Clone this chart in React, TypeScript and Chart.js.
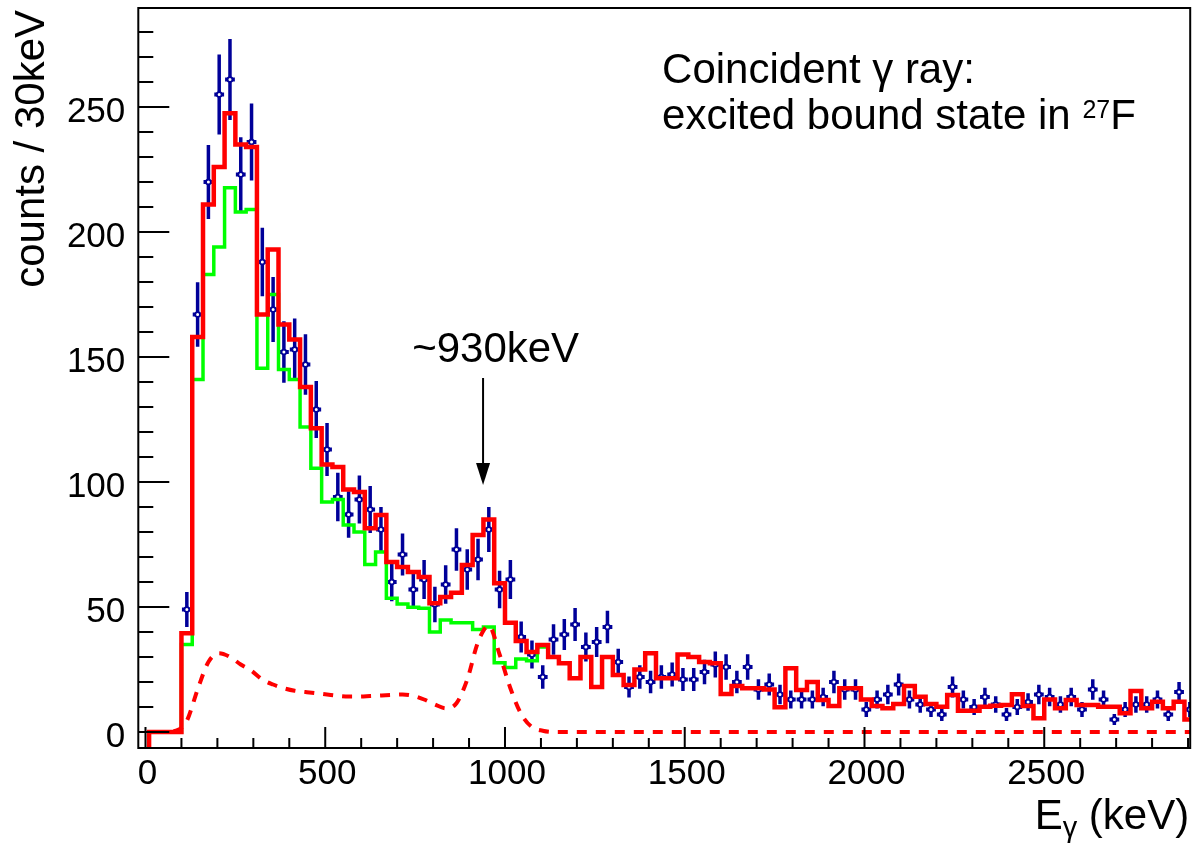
import React, { useEffect, useRef } from "react";
import { Chart, registerables } from "chart.js";

Chart.register(...registerables);

// ---------------- data (30 keV bins, first bin edge at 10 keV) ----------------
const BIN_START = 10;
const BIN_WIDTH = 30;

// measured counts (blue points); first entry is bin index 3 (centre 115 keV)
const DATA_FIRST_BIN = 3;
const dataCounts = [
  49, 167, 220, 255, 261, 223, 236, 188, 169, 152,
  153, 147, 129, 113, 94, 87, 93, 89, 81, 60,
  71, 57, 61, 51, 59, 73, 65, 69, 81, 57,
  61, 38, 31, 22, 37, 39, 43, 34, 36, 42,
  28, 18, 22, 20, 22, 23, 21, 21, 24, 27,
  26, 20, 26, 17, 19, 15, 13, 13, 13, 14,
  20, 17, 17, 9, 13, 15, 19, 13, 11, 9,
  7, 18, 13, 10, 14, 11, 7, 10, 12, 15,
  14, 11, 14, 9, 17, 13, 5, 9, 11, 11,
  13, 7, 16, 9,
];

// total fit (red solid histogram), bins 0..96
const totalFit = [
  0, 0, 0, 39.5, 158, 211, 226, 247.5, 235, 234,
  167, 193, 163, 157, 138, 121.5, 107, 106, 97, 96,
  81.5, 86.8, 68, 66, 64, 62, 51.5, 54, 55.7, 66.8,
  78.8, 85, 59.5, 43.7, 36.4, 32, 34.8, 30, 27.5, 21.5,
  30, 18, 30, 22.8, 18.8, 25, 31.5, 21.5, 21.5, 31,
  30, 28, 27.5, 15.2, 18.4, 17.5, 17.5, 17, 9.9, 25.5,
  16.8, 20, 12.8, 10.4, 17.5, 17.5, 13, 10.4, 9.5, 11.2,
  18.4, 14.1, 11.2, 10.1, 14.8, 8.5, 8.5, 10.1, 10.5, 10.8,
  15.1, 10.4, 5.5, 13, 9.5, 12.8, 10.8, 10.8, 10.1, 10.1,
  7.5, 16.4, 9.5, 12.1, 9.5, 12.1, 5,
];

// other-states component (green histogram), bins 0..36 (beyond it lies under the red line)
const otherFit = [
  0, 0, 0, 35, 141, 183, 194, 217.7, 208, 209,
  145.5, 175, 145, 141, 122, 105.5, 92, 93, 82.8, 80,
  67, 72, 53.5, 51.2, 49.9, 49.5, 40, 44.8, 43.7, 43.7,
  41, 42, 27.7, 25.8, 29.2, 28.5, 34,
];

// 930 keV state component (red dashed curve), values at bin centres, bins 0..97
const peakFit = [
  0, 0, 0.5, 4.5, 17, 28, 31.5, 30, 27, 24.5,
  21, 19, 17.5, 16.5, 16, 15.5, 15, 14.5, 14.2, 14.2,
  14.4, 14.6, 14.8, 15, 14.5, 13, 11, 9.5, 11.5, 21,
  36, 42.5, 31, 17.5, 7.2, 2, 0.5, 0, 0, 0,
  0, 0, 0, 0, 0, 0, 0, 0, 0, 0,
  0, 0, 0, 0, 0, 0, 0, 0, 0, 0,
  0, 0, 0, 0, 0, 0, 0, 0, 0, 0,
  0, 0, 0, 0, 0, 0, 0, 0, 0, 0,
  0, 0, 0, 0, 0, 0, 0, 0, 0, 0,
  0, 0, 0, 0, 0, 0, 0, 0,
];

// axes
const X_MIN = -20;
const X_MAX = 2906;
const Y_MIN = -6.4;
const Y_MAX = 289.6;
const xMajorTicks = [0, 500, 1000, 1500, 2000, 2500];
const yMajorTicks = [0, 50, 100, 150, 200, 250];
const xTickLabels = ["0", "500", "1000", "1500", "2000", "2500"];
const yTickLabels = ["0", "50", "100", "150", "200", "250"];
const xTitleMain = "E";
const xTitleSub = "\u03b3";
const xTitleRest = " (keV)";
const yTitle = "counts / 30keV";

// annotations (data coordinates)
const noteLine1 = "Coincident \u03b3 ray:";
const noteLine2 = "excited bound state in ";
const noteSup = "27";
const noteEnd = "F";
const noteX = 1437;
const noteY1 = 259.6;
const noteY2 = 241.2;
const peakLabel = "~930keV";
const peakLabelX = 974;
const peakLabelY = 148;
const arrowX = 939;
const arrowTop = 141.6;
const arrowTip = 98.8;

// ---------------- styles ----------------
const RED = "#ff0000";
const GREEN = "#00ff00";
const BLUE = "#000099";
const FONT = "'Liberation Sans', Arial, Helvetica, sans-serif";

const edge = (k: number) => BIN_START + k * BIN_WIDTH;
const centre = (k: number) => BIN_START + k * BIN_WIDTH + BIN_WIDTH / 2;

function histPoints(values: number[]) {
  const pts: { x: number; y: number }[] = [{ x: edge(0), y: Y_MIN }];
  values.forEach((v, k) => pts.push({ x: edge(k), y: v }));
  pts.push({ x: edge(values.length), y: values[values.length - 1] });
  return pts;
}

const rootStylePlugin = {
  id: "rootStyle",
  beforeDatasetsDraw(chart: any) {
    const { ctx, chartArea, scales } = chart;
    const x = scales.x;
    const y = scales.y;
    ctx.save();
    ctx.beginPath();
    ctx.rect(chartArea.left, chartArea.top, chartArea.right - chartArea.left, chartArea.bottom - chartArea.top);
    ctx.clip();
    ctx.strokeStyle = BLUE;
    ctx.lineCap = "butt";
    dataCounts.forEach((n, i) => {
      const k = DATA_FIRST_BIN + i;
      const err = Math.sqrt(n);
      const px = x.getPixelForValue(centre(k));
      const py = y.getPixelForValue(n);
      ctx.lineWidth = 3.5;
      ctx.beginPath();
      ctx.moveTo(px, y.getPixelForValue(n + err));
      ctx.lineTo(px, y.getPixelForValue(n - err));
      ctx.stroke();
      ctx.lineWidth = 4;
      ctx.beginPath();
      ctx.moveTo(x.getPixelForValue(edge(k)) + 0.5, py);
      ctx.lineTo(x.getPixelForValue(edge(k + 1)) - 0.5, py);
      ctx.stroke();
    });
    ctx.restore();
  },
  afterDatasetsDraw(chart: any) {
    const { ctx, chartArea, scales } = chart;
    const x = scales.x;
    const y = scales.y;
    const { left, right, top, bottom } = chartArea;
    ctx.save();
    // frame
    ctx.strokeStyle = "#000";
    ctx.lineWidth = 2;
    ctx.strokeRect(left, top, right - left, bottom - top);
    // ticks (inside)
    ctx.lineWidth = 2;
    ctx.beginPath();
    x.ticks.forEach((t: any) => {
      const px = x.getPixelForValue(t.value);
      const len = xMajorTicks.includes(t.value) ? 21 : 10;
      ctx.moveTo(px, bottom);
      ctx.lineTo(px, bottom - len);
    });
    y.ticks.forEach((t: any) => {
      const py = y.getPixelForValue(t.value);
      const len = yMajorTicks.includes(t.value) ? 31 : 15;
      ctx.moveTo(left, py);
      ctx.lineTo(left + len, py);
    });
    ctx.stroke();
    // tick labels
    ctx.fillStyle = "#000";
    ctx.font = `35px ${FONT}`;
    ctx.textBaseline = "alphabetic";
    ctx.textAlign = "right";
    yMajorTicks.forEach((v, i) => {
      ctx.fillText(yTickLabels[i], left - 13, y.getPixelForValue(v) + 15);
    });
    ctx.textAlign = "center";
    xMajorTicks.forEach((v, i) => {
      ctx.fillText(xTickLabels[i], x.getPixelForValue(v) + 2, bottom + 36);
    });
    // x title, right aligned
    const titleFont = `42px ${FONT}`;
    const subFont = `29px ${FONT}`;
    ctx.font = titleFont;
    const wMain = ctx.measureText(xTitleMain).width;
    const wRest = ctx.measureText(xTitleRest).width;
    ctx.font = subFont;
    const wSub = ctx.measureText(xTitleSub).width;
    const xEnd = right - 1;
    const xStart = xEnd - (wMain + wSub + wRest);
    const tBase = 829;
    ctx.textAlign = "left";
    ctx.font = titleFont;
    ctx.fillText(xTitleMain, xStart, tBase);
    ctx.font = subFont;
    ctx.fillText(xTitleSub, xStart + wMain, tBase + 8);
    ctx.font = titleFont;
    ctx.fillText(xTitleRest, xStart + wMain + wSub, tBase);
    // y title, rotated
    ctx.save();
    ctx.translate(44, 10);
    ctx.rotate(-Math.PI / 2);
    ctx.textAlign = "right";
    ctx.font = titleFont;
    ctx.fillText(yTitle, 0, 0);
    ctx.restore();
    // annotation
    const noteFont = `42px ${FONT}`;
    const supFont = `25px ${FONT}`;
    ctx.textAlign = "left";
    ctx.font = noteFont;
    const nx = x.getPixelForValue(noteX);
    ctx.fillText(noteLine1, nx, y.getPixelForValue(noteY1));
    const ny2 = y.getPixelForValue(noteY2);
    ctx.fillText(noteLine2, nx, ny2);
    const w2 = ctx.measureText(noteLine2).width;
    ctx.font = supFont;
    ctx.fillText(noteSup, nx + w2, ny2 - 11);
    const wSup = ctx.measureText(noteSup).width;
    ctx.font = noteFont;
    ctx.fillText(noteEnd, nx + w2 + wSup, ny2);
    // peak label + arrow
    ctx.textAlign = "center";
    ctx.fillText(peakLabel, x.getPixelForValue(peakLabelX), y.getPixelForValue(peakLabelY));
    const ax = x.getPixelForValue(arrowX);
    const aTop = y.getPixelForValue(arrowTop);
    const aTip = y.getPixelForValue(arrowTip);
    ctx.strokeStyle = "#000";
    ctx.lineWidth = 2;
    ctx.beginPath();
    ctx.moveTo(ax, aTop);
    ctx.lineTo(ax, aTip - 20);
    ctx.stroke();
    ctx.beginPath();
    ctx.moveTo(ax, aTip);
    ctx.lineTo(ax - 7, aTip - 22);
    ctx.lineTo(ax + 7, aTip - 22);
    ctx.closePath();
    ctx.fillStyle = "#000";
    ctx.fill();
    ctx.restore();
  },
};

export default function App() {
  const canvasRef = useRef<HTMLCanvasElement | null>(null);

  useEffect(() => {
    const canvas = canvasRef.current;
    if (!canvas) return;
    const totalPts = histPoints(totalFit);
    const otherPts = histPoints(otherFit);
    const peakPts = peakFit.map((v, k) => ({ x: centre(k), y: v }));
    const dataPts = dataCounts.map((n, i) => ({ x: centre(DATA_FIRST_BIN + i), y: n }));

    const chart = new Chart(canvas, {
      type: "line",
      data: {
        datasets: [
          {
            label: "total",
            data: totalPts,
            borderColor: RED,
            borderWidth: 4.5,
            stepped: "before",
            pointRadius: 0,
            fill: false,
            clip: 0,
          },
          {
            label: "930 keV",
            data: peakPts,
            borderColor: RED,
            borderWidth: 4,
            borderDash: [10, 9],
            cubicInterpolationMode: "monotone",
            pointRadius: 0,
            fill: false,
            clip: 0,
          },
          {
            label: "other",
            data: otherPts,
            borderColor: GREEN,
            borderWidth: 3.5,
            stepped: "before",
            pointRadius: 0,
            fill: false,
            clip: 0,
          },
          {
            label: "data",
            data: dataPts,
            showLine: false,
            pointRadius: 2.4,
            pointBorderWidth: 1.8,
            pointBorderColor: BLUE,
            pointBackgroundColor: "#ffffff",
            clip: 0,
          },
        ],
      } as any,
      options: {
        animation: false,
        responsive: false,
        events: [],
        layout: { padding: { left: 138.3, right: 4.3, top: 8, bottom: 95 } },
        plugins: { legend: { display: false }, tooltip: { enabled: false } },
        scales: {
          x: {
            type: "linear",
            display: false,
            min: X_MIN,
            max: X_MAX,
            ticks: { stepSize: 100, autoSkip: false, maxTicksLimit: 1000, includeBounds: false },
          },
          y: {
            type: "linear",
            display: false,
            min: Y_MIN,
            max: Y_MAX,
            ticks: { stepSize: 10, autoSkip: false, maxTicksLimit: 1000, includeBounds: false },
          },
        },
      } as any,
      plugins: [rootStylePlugin],
    });
    return () => chart.destroy();
  }, []);

  return (
    <canvas
      ref={canvasRef}
      width={1196}
      height={843}
      style={{ position: "absolute", left: 0, top: 0, width: 1196, height: 843, display: "block", background: "#fff" }}
    />
  );
}
